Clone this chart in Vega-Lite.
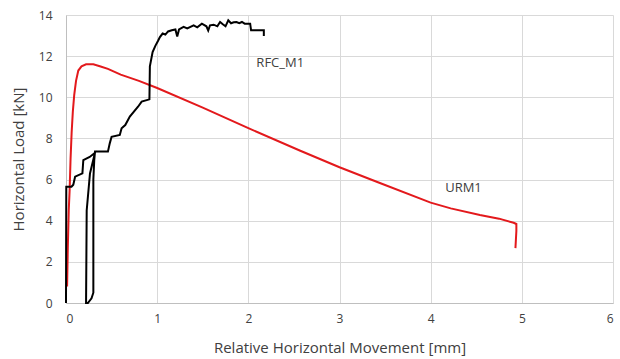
{
  "$schema": "https://vega.github.io/schema/vega-lite/v6.json",
  "width": 547,
  "height": 288,
  "autosize": "none",
  "padding": {"left": 66, "top": 15, "right": 7, "bottom": 56},
  "background": "white",
  "config": {
    "view": {"stroke": null},
    "font": "Open Sans",
    "axis": {
      "gridColor": "#d9d9d9",
      "domainColor": "#bfbfbf",
      "tickSize": 0,
      "labelFontSize": 12,
      "labelColor": "#404040",
      "titleFontSize": 15,
      "titleFontWeight": "normal",
      "titleColor": "#404040"
    }
  },
  "datasets": {
    "curves": [
      {"s": "URM1", "i": 1, "x": 0.012, "y": 0.8},
      {"s": "URM1", "i": 2, "x": 0.02, "y": 2.7},
      {"s": "URM1", "i": 3, "x": 0.03, "y": 4.5},
      {"s": "URM1", "i": 4, "x": 0.04, "y": 5.5},
      {"s": "URM1", "i": 5, "x": 0.05, "y": 7.0},
      {"s": "URM1", "i": 6, "x": 0.062, "y": 8.3},
      {"s": "URM1", "i": 7, "x": 0.075, "y": 9.3},
      {"s": "URM1", "i": 8, "x": 0.09, "y": 10.1},
      {"s": "URM1", "i": 9, "x": 0.11, "y": 10.8},
      {"s": "URM1", "i": 10, "x": 0.135, "y": 11.3},
      {"s": "URM1", "i": 11, "x": 0.17, "y": 11.5},
      {"s": "URM1", "i": 12, "x": 0.22, "y": 11.6},
      {"s": "URM1", "i": 13, "x": 0.30, "y": 11.6},
      {"s": "URM1", "i": 14, "x": 0.38, "y": 11.5},
      {"s": "URM1", "i": 15, "x": 0.46, "y": 11.38},
      {"s": "URM1", "i": 16, "x": 0.6, "y": 11.1},
      {"s": "URM1", "i": 17, "x": 0.8, "y": 10.8},
      {"s": "URM1", "i": 18, "x": 1.0, "y": 10.45},
      {"s": "URM1", "i": 19, "x": 1.5, "y": 9.5},
      {"s": "URM1", "i": 20, "x": 2.0, "y": 8.5},
      {"s": "URM1", "i": 21, "x": 2.57, "y": 7.4},
      {"s": "URM1", "i": 22, "x": 3.0, "y": 6.6},
      {"s": "URM1", "i": 23, "x": 3.45, "y": 5.82},
      {"s": "URM1", "i": 24, "x": 4.0, "y": 4.88},
      {"s": "URM1", "i": 25, "x": 4.22, "y": 4.6},
      {"s": "URM1", "i": 26, "x": 4.54, "y": 4.28},
      {"s": "URM1", "i": 27, "x": 4.75, "y": 4.1},
      {"s": "URM1", "i": 28, "x": 4.91, "y": 3.9},
      {"s": "URM1", "i": 29, "x": 4.94, "y": 3.84},
      {"s": "URM1", "i": 30, "x": 4.94, "y": 3.5},
      {"s": "URM1", "i": 31, "x": 4.93, "y": 2.67},
      {"s": "RFC_M1", "i": 1, "x": 0.0, "y": 0.0},
      {"s": "RFC_M1", "i": 2, "x": 0.003, "y": 5.65},
      {"s": "RFC_M1", "i": 3, "x": 0.06, "y": 5.65},
      {"s": "RFC_M1", "i": 4, "x": 0.08, "y": 5.75},
      {"s": "RFC_M1", "i": 5, "x": 0.10, "y": 6.14},
      {"s": "RFC_M1", "i": 6, "x": 0.18, "y": 6.3},
      {"s": "RFC_M1", "i": 7, "x": 0.19, "y": 6.95},
      {"s": "RFC_M1", "i": 8, "x": 0.26, "y": 7.1},
      {"s": "RFC_M1", "i": 9, "x": 0.318, "y": 7.3},
      {"s": "RFC_M1", "i": 10, "x": 0.263, "y": 6.3},
      {"s": "RFC_M1", "i": 11, "x": 0.227, "y": 4.5},
      {"s": "RFC_M1", "i": 12, "x": 0.22, "y": 0.0},
      {"s": "RFC_M1", "i": 13, "x": 0.24, "y": 0.0},
      {"s": "RFC_M1", "i": 14, "x": 0.28, "y": 0.23},
      {"s": "RFC_M1", "i": 15, "x": 0.30, "y": 0.5},
      {"s": "RFC_M1", "i": 16, "x": 0.30, "y": 6.0},
      {"s": "RFC_M1", "i": 17, "x": 0.31, "y": 6.95},
      {"s": "RFC_M1", "i": 18, "x": 0.318, "y": 7.36},
      {"s": "RFC_M1", "i": 19, "x": 0.46, "y": 7.36},
      {"s": "RFC_M1", "i": 20, "x": 0.48, "y": 7.76},
      {"s": "RFC_M1", "i": 21, "x": 0.50, "y": 8.08},
      {"s": "RFC_M1", "i": 22, "x": 0.59, "y": 8.17},
      {"s": "RFC_M1", "i": 23, "x": 0.61, "y": 8.49},
      {"s": "RFC_M1", "i": 24, "x": 0.65, "y": 8.65},
      {"s": "RFC_M1", "i": 25, "x": 0.70, "y": 9.06},
      {"s": "RFC_M1", "i": 26, "x": 0.79, "y": 9.54},
      {"s": "RFC_M1", "i": 27, "x": 0.83, "y": 9.79},
      {"s": "RFC_M1", "i": 28, "x": 0.915, "y": 9.9},
      {"s": "RFC_M1", "i": 29, "x": 0.92, "y": 11.5},
      {"s": "RFC_M1", "i": 30, "x": 0.95, "y": 12.2},
      {"s": "RFC_M1", "i": 31, "x": 0.98, "y": 12.5},
      {"s": "RFC_M1", "i": 32, "x": 1.01, "y": 12.75},
      {"s": "RFC_M1", "i": 33, "x": 1.03, "y": 12.93},
      {"s": "RFC_M1", "i": 34, "x": 1.06, "y": 13.1},
      {"s": "RFC_M1", "i": 35, "x": 1.09, "y": 13.05},
      {"s": "RFC_M1", "i": 36, "x": 1.12, "y": 13.2},
      {"s": "RFC_M1", "i": 37, "x": 1.16, "y": 13.26},
      {"s": "RFC_M1", "i": 38, "x": 1.20, "y": 13.3},
      {"s": "RFC_M1", "i": 39, "x": 1.22, "y": 12.95},
      {"s": "RFC_M1", "i": 40, "x": 1.24, "y": 13.3},
      {"s": "RFC_M1", "i": 41, "x": 1.29, "y": 13.42},
      {"s": "RFC_M1", "i": 42, "x": 1.33, "y": 13.35},
      {"s": "RFC_M1", "i": 43, "x": 1.40, "y": 13.5},
      {"s": "RFC_M1", "i": 44, "x": 1.44, "y": 13.4},
      {"s": "RFC_M1", "i": 45, "x": 1.49, "y": 13.58},
      {"s": "RFC_M1", "i": 46, "x": 1.54, "y": 13.45},
      {"s": "RFC_M1", "i": 47, "x": 1.56, "y": 13.25},
      {"s": "RFC_M1", "i": 48, "x": 1.58, "y": 13.5},
      {"s": "RFC_M1", "i": 49, "x": 1.62, "y": 13.53},
      {"s": "RFC_M1", "i": 50, "x": 1.66, "y": 13.45},
      {"s": "RFC_M1", "i": 51, "x": 1.69, "y": 13.66},
      {"s": "RFC_M1", "i": 52, "x": 1.72, "y": 13.55},
      {"s": "RFC_M1", "i": 53, "x": 1.75, "y": 13.45},
      {"s": "RFC_M1", "i": 54, "x": 1.78, "y": 13.74},
      {"s": "RFC_M1", "i": 55, "x": 1.81, "y": 13.6},
      {"s": "RFC_M1", "i": 56, "x": 1.84, "y": 13.65},
      {"s": "RFC_M1", "i": 57, "x": 1.87, "y": 13.66},
      {"s": "RFC_M1", "i": 58, "x": 1.90, "y": 13.6},
      {"s": "RFC_M1", "i": 59, "x": 1.93, "y": 13.66},
      {"s": "RFC_M1", "i": 60, "x": 1.96, "y": 13.58},
      {"s": "RFC_M1", "i": 61, "x": 2.02, "y": 13.58},
      {"s": "RFC_M1", "i": 62, "x": 2.03, "y": 13.26},
      {"s": "RFC_M1", "i": 63, "x": 2.17, "y": 13.26},
      {"s": "RFC_M1", "i": 64, "x": 2.17, "y": 12.98}
    ],
    "labels": [
      {"t": "RFC_M1", "x": 2.35, "y": 11.67},
      {"t": "URM1", "x": 4.36, "y": 5.59}
    ]
  },
  "layer": [
    {
      "data": {"name": "curves"},
      "mark": {"type": "line", "strokeWidth": 2, "interpolate": "linear"},
      "encoding": {
        "x": {
          "field": "x", "type": "quantitative",
          "scale": {"domain": [0, 6], "nice": false},
          "axis": {"title": "Relative Horizontal Movement [mm]", "values": [0, 1, 2, 3, 4, 5, 6], "format": "d", "labelPadding": 10, "titlePadding": 16}
        },
        "y": {
          "field": "y", "type": "quantitative",
          "scale": {"domain": [0, 14], "nice": false},
          "axis": {"title": "Horizontal Load [kN]", "values": [0, 2, 4, 6, 8, 10, 12, 14], "format": "d", "labelPadding": 14, "titlePadding": 12}
        },
        "color": {
          "field": "s", "type": "nominal",
          "scale": {"domain": ["URM1", "RFC_M1"], "range": ["#e3191c", "#000000"]},
          "legend": null
        },
        "order": {"field": "i", "type": "quantitative"}
      }
    },
    {
      "data": {"name": "labels"},
      "mark": {"type": "text", "fontSize": 13, "color": "#404040", "font": "Open Sans"},
      "encoding": {
        "x": {"field": "x", "type": "quantitative"},
        "y": {"field": "y", "type": "quantitative"},
        "text": {"field": "t"}
      }
    }
  ]
}
